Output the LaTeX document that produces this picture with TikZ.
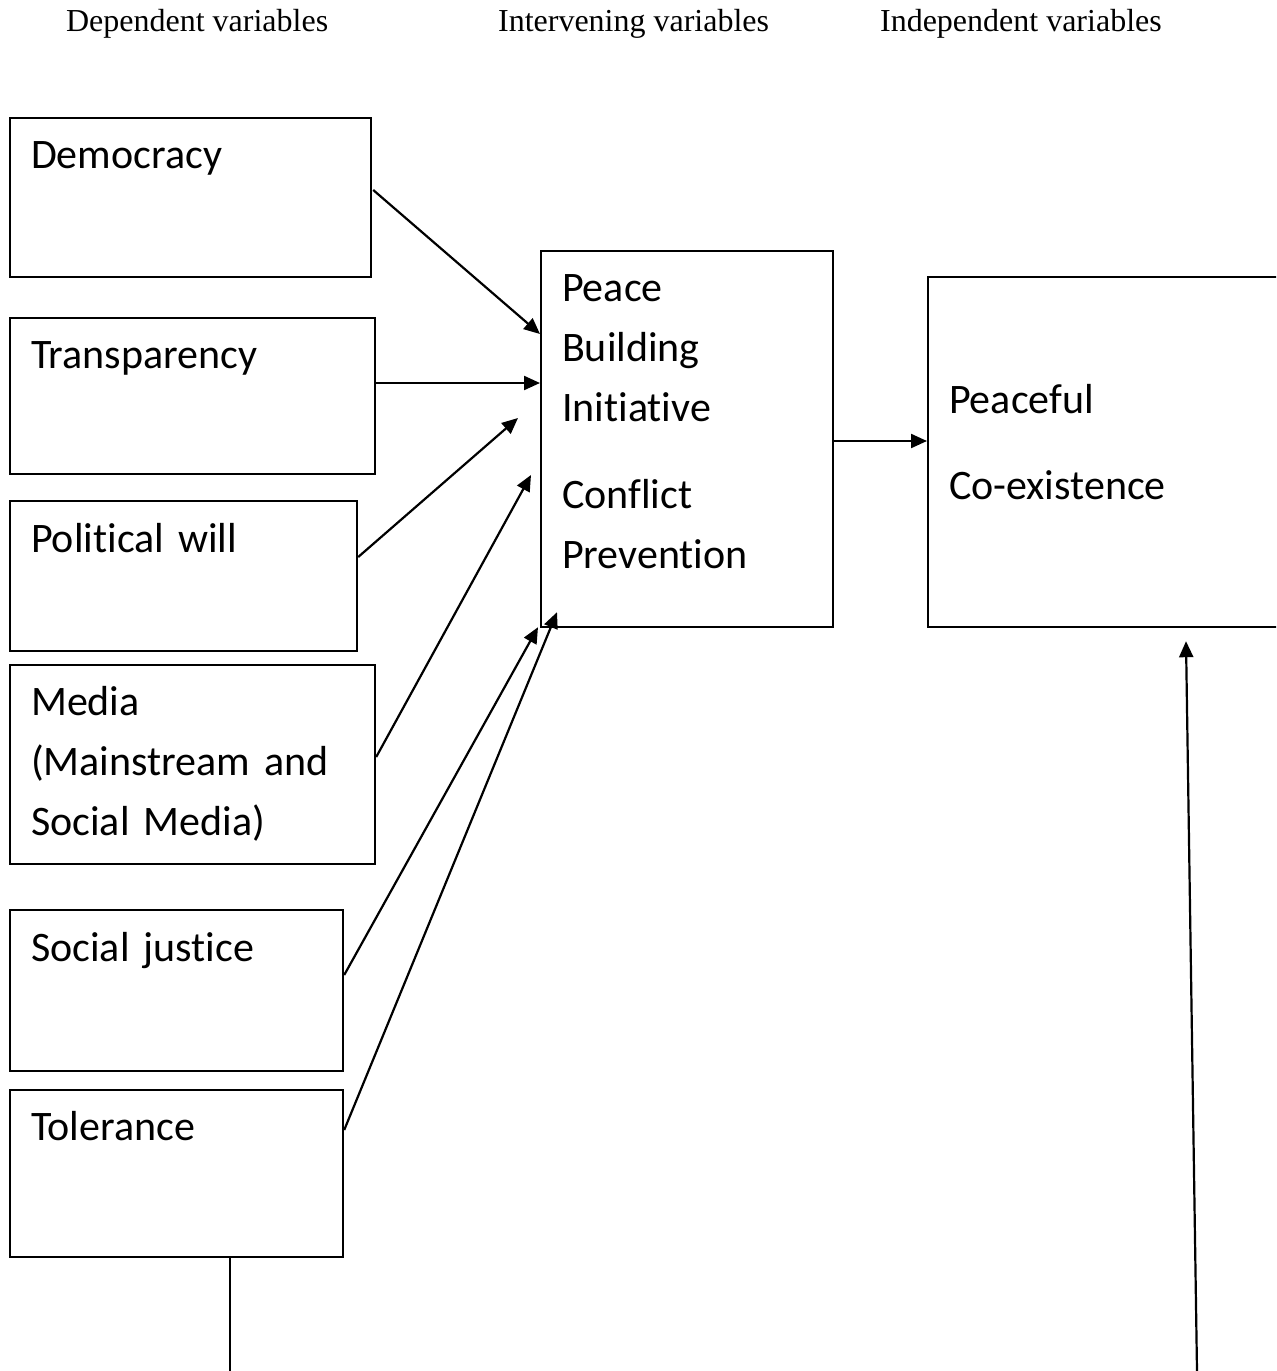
\documentclass[tikz,border=0pt]{standalone}
\usepackage{fontspec}
\setmainfont{Liberation Serif}
\newfontfamily\boxfont[Ligatures=NoCommon]{Carlito}
\usetikzlibrary{arrows.meta,calc}

\begin{document}
\begin{tikzpicture}[x=0.5pt, y=-0.5pt, line width=1.1pt, >={Triangle[length=8pt, width=7pt]},
    box/.style = {draw, rectangle, inner sep=0pt, anchor=north west},
    lbl/.style = {inner sep=0pt, anchor=base west, align=left, text width=170pt, font=\boxfont\fontsize{21}{30}\selectfont},
    head/.style = {inner sep=0pt, anchor=base west, font=\fontsize{16}{19}\selectfont}]
                \useasboundingbox (0,0) rectangle (1276,1371);
                \clip (0,0) rectangle (1276,1371);
                % headings
                \node[head] (hdep) at (65,31) {Dependent variables};
                \node[head] (hint) at (497,31) {Intervening variables};
                \node[head] (hind) at (879,31) {Independent variables};
                % boxes
                \node[box, minimum width=180.5pt, minimum height=79.5pt] (dem) at (9,117) {};
                \node[box, minimum width=182.5pt, minimum height=78pt] (tra) at (9,317) {};
                \node[box, minimum width=173.5pt, minimum height=75pt] (pol) at (9,500) {};
                \node[box, minimum width=182.5pt, minimum height=99.5pt] (med) at (9,664) {};
                \node[box, minimum width=166.5pt, minimum height=80.5pt] (soc) at (9,909) {};
                \node[box, minimum width=166.5pt, minimum height=83.5pt] (tol) at (9,1089) {};
                \node[box, minimum width=146pt, minimum height=188pt] (pbi) at (540,250) {};
                \node[box, minimum width=200pt, minimum height=175pt] (pce) at (927,276) {};
                % box texts
                \node[lbl] (demt) at (30,168) {Democracy};
                \node[lbl] (trat) at (30,368) {Transparency};
                \node[lbl] (polt) at (30,552) {Political will};
                \node[lbl] (medt) at (30,715) {Media\\(Mainstream and\\Social Media)};
                \node[lbl] (soct) at (30,961) {Social justice};
                \node[lbl] (tolt) at (30,1140) {Tolerance};
                \node[lbl] (pbit) at (561,301) {Peace\\Building\\Initiative\\[13.5pt]Conflict\\Prevention};
                \node[lbl] (pcet) at (948,413) {Peaceful\\[13pt]Co-existence};
                % connectors
                \draw[->] ($(dem.north east)+(1,73)$) -- ($(pbi.north west)+(0,84)$);
                \draw[->] ($(tra.north east)+(0,66)$) -- ($(pbi.north west)+(0,133)$);
                \draw[->] ($(pol.north east)+(0,57)$) -- ($(pbi.north west)+(-22,168)$);
                \draw[->] ($(med.north east)+(0,93)$) -- ($(pbi.north west)+(-9,225)$);
                \draw[->] ($(soc.north east)+(0,66)$) -- ($(pbi.south west)+(-2,-1)$);
                \draw[->] ($(tol.north east)+(0,41)$) -- ($(pbi.south west)+(17,-16)$);
                \draw[->] ($(pbi.north east)+(0,191)$) -- ($(pce.north west)+(0,165)$);
                \coordinate (lend) at (230,1371);
                \coordinate (rend) at (1197,1371);
                \draw ($(tol.south west)+(221,0)$) -- (lend);
                \draw[->] (rend) -- ($(pce.south west)+(259,13)$);
            \end{tikzpicture}
\end{document}
